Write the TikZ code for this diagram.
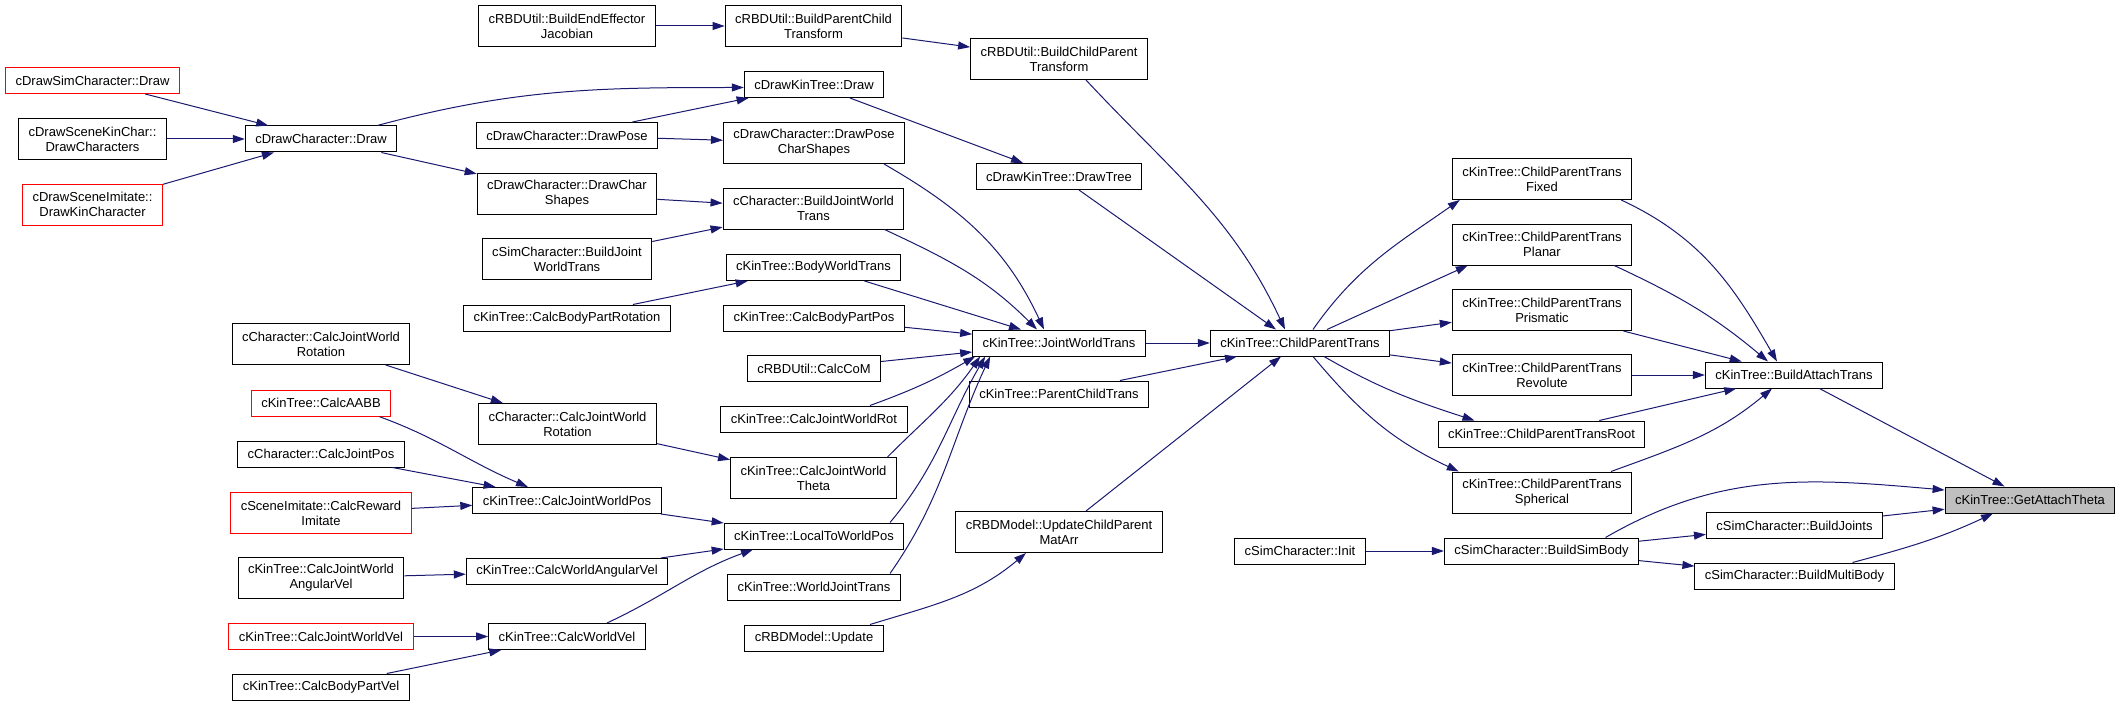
\documentclass[tikz,border=0pt]{standalone}
\usepackage{fontspec}
\setmainfont{Liberation Sans}
\usepackage{tikz}
\usetikzlibrary{arrows.meta}
\definecolor{edgeblue}{HTML}{191970}

\begin{document}
\begin{tikzpicture}[x=1pt, y=-1pt,
    fn/.style={draw=black, fill=white, line width=1pt, font=\fontsize{13}{15}\selectfont, inner xsep=10pt, inner ysep=2pt, minimum height=26pt, align=center},
    fntwo/.style={fn, minimum height=41pt},
    ext/.style={draw=red},
    cur/.style={fill=black!25},
    arrow/.style={-{Triangle[length=12pt,width=8pt]}, draw=edgeblue, line width=1pt}]

    \useasboundingbox (0,0) rectangle (2121,706);

    \node[fntwo] (jacob) at (567,26) {cRBDUtil::BuildEndEffector\\Jacobian};
    \node[fntwo] (bpct) at (813.5,26) {cRBDUtil::BuildParentChild\\Transform};
    \node[fntwo] (bcpt) at (1059,59) {cRBDUtil::BuildChildParent\\Transform};
    \node[fn, ext] (dsimdraw) at (92.5,80.5) {cDrawSimCharacter::Draw};
    \node[fntwo] (dkinchar) at (92.5,139) {cDrawSceneKinChar::\\DrawCharacters};
    \node[fn] (dchardraw) at (321,139) {cDrawCharacter::Draw};
    \node[fntwo, ext] (dimitate) at (92.5,204.5) {cDrawSceneImitate::\\DrawKinCharacter};
    \node[fn] (dkintree) at (814,84.5) {cDrawKinTree::Draw};
    \node[fn] (drawpose) at (567,135.5) {cDrawCharacter::DrawPose};
    \node[fntwo] (posecs) at (814,143) {cDrawCharacter::DrawPose\\CharShapes};
    \node[fntwo] (charshapes) at (567,194) {cDrawCharacter::DrawChar\\Shapes};
    \node[fn] (drawtree) at (1059,176.5) {cDrawKinTree::DrawTree};
    \node[fntwo] (cbjwt) at (813.5,208.5) {cCharacter::BuildJointWorld\\Trans};
    \node[fntwo] (sbjwt) at (567,259) {cSimCharacter::BuildJoint\\WorldTrans};
    \node[fn] (bodywt) at (813.5,267.5) {cKinTree::BodyWorldTrans};
    \node[fn] (bprot) at (567,318) {cKinTree::CalcBodyPartRotation};
    \node[fn] (bppos) at (814,318) {cKinTree::CalcBodyPartPos};
    \node[fn] (jwt) at (1059,343) {cKinTree::JointWorldTrans};
    \node[fn] (cpt) at (1300,343) {cKinTree::ChildParentTrans};
    \node[fntwo] (crot1) at (321,344) {cCharacter::CalcJointWorld\\Rotation};
    \node[fn] (com) at (814,368.5) {cRBDUtil::CalcCoM};
    \node[fn] (pct) at (1059,394) {cKinTree::ParentChildTrans};
    \node[fn, ext] (aabb) at (321,403) {cKinTree::CalcAABB};
    \node[fntwo] (crot2) at (567.5,424) {cCharacter::CalcJointWorld\\Rotation};
    \node[fn] (jwrot) at (814,419) {cKinTree::CalcJointWorldRot};
    \node[fn] (jpos) at (321,454) {cCharacter::CalcJointPos};
    \node[fntwo] (theta) at (813.5,478) {cKinTree::CalcJointWorld\\Theta};
    \node[fn] (jwpos) at (567,500.5) {cKinTree::CalcJointWorldPos};
    \node[fntwo, ext] (reward) at (321,513) {cSceneImitate::CalcReward\\Imitate};
    \node[fn] (l2w) at (814,536) {cKinTree::LocalToWorldPos};
    \node[fntwo] (upd) at (1059,532) {cRBDModel::UpdateChildParent\\MatArr};
    \node[fn] (init) at (1300,551) {cSimCharacter::Init};
    \node[fntwo] (angvel) at (321,578) {cKinTree::CalcJointWorld\\AngularVel};
    \node[fn] (wangvel) at (567,571.5) {cKinTree::CalcWorldAngularVel};
    \node[fn] (wjt) at (814,587) {cKinTree::WorldJointTrans};
    \node[fn, ext] (jwvel) at (321,636.5) {cKinTree::CalcJointWorldVel};
    \node[fn] (wvel) at (567,636.5) {cKinTree::CalcWorldVel};
    \node[fn] (rbdupd) at (814,638) {cRBDModel::Update};
    \node[fn] (bpvel) at (321,687) {cKinTree::CalcBodyPartVel};
    \node[fntwo] (fixed) at (1542,179) {cKinTree::ChildParentTrans\\Fixed};
    \node[fntwo] (planar) at (1542,244.5) {cKinTree::ChildParentTrans\\Planar};
    \node[fntwo] (prism) at (1542,310) {cKinTree::ChildParentTrans\\Prismatic};
    \node[fntwo] (revol) at (1542,375) {cKinTree::ChildParentTrans\\Revolute};
    \node[fn] (root) at (1541.5,434) {cKinTree::ChildParentTransRoot};
    \node[fntwo] (spher) at (1542,492.5) {cKinTree::ChildParentTrans\\Spherical};
    \node[fn] (bat) at (1794,375) {cKinTree::BuildAttachTrans};
    \node[fn, cur] (gat) at (2030,500) {cKinTree::GetAttachTheta};
    \node[fn] (bjoints) at (1794.5,525.5) {cSimCharacter::BuildJoints};
    \node[fn] (simbody) at (1541.5,551) {cSimCharacter::BuildSimBody};
    \node[fn] (multibody) at (1794.5,576) {cSimCharacter::BuildMultiBody};

    \draw[arrow] (jacob) -- (bpct);
    \draw[arrow] (bpct) -- (bcpt);
    \draw[arrow] ([xshift=27pt]bcpt.south) to[out=-47,in=115] ([xshift=-15pt]cpt.north);
    \draw[arrow] (dsimdraw) -- (dchardraw);
    \draw[arrow] (dkinchar) -- (dchardraw);
    \draw[arrow] (dimitate) -- (dchardraw);
    \draw[arrow] ([xshift=-20pt]dchardraw.north east) to[out=15,in=180] ([yshift=-3pt]dkintree.west);
    \draw[arrow] (dchardraw) -- (charshapes);
    \draw[arrow] (drawpose) -- (dkintree);
    \draw[arrow] (drawpose) -- (posecs);
    \draw[arrow] (charshapes) -- (cbjwt);
    \draw[arrow] (sbjwt) -- (cbjwt);
    \draw[arrow] (bprot) -- (bodywt);
    \draw[arrow] (dkintree) -- (drawtree);
    \draw[arrow] ([xshift=20pt]drawtree.south) -- ([xshift=-24pt]cpt.north);
    \draw[arrow] ([xshift=70pt]posecs.south) to[out=-30,in=115] ([xshift=-15pt]jwt.north);
    \draw[arrow] ([xshift=71pt]cbjwt.south) to[out=-25,in=135] ([xshift=-22pt]jwt.north);
    \draw[arrow] ([xshift=51pt]bodywt.south) -- ([xshift=-38pt]jwt.north);
    \draw[arrow] (bppos) -- (jwt);
    \draw[arrow] (com) -- (jwt);
    \draw[arrow] ([xshift=56pt]jwrot.north) to[out=20,in=210] ([xshift=3pt]jwt.south west);
    \draw[arrow] ([xshift=74pt]theta.north) to[out=45,in=235] ([xshift=8pt]jwt.south west);
    \draw[arrow] ([xshift=76pt]l2w.north) to[out=50,in=240] ([xshift=13pt]jwt.south west);
    \draw[arrow] ([xshift=76pt]wjt.north) to[out=55,in=245] ([xshift=18pt]jwt.south west);
    \draw[arrow] (jwt) -- (cpt);
    \draw[arrow] ([xshift=61pt]pct.north) -- ([xshift=-63pt]cpt.south);
    \draw[arrow] ([xshift=27pt]upd.north) -- ([xshift=-19pt]cpt.south);
    \draw[arrow] ([xshift=56pt]rbdupd.north) to[out=17,in=220] ([xshift=-33pt]upd.south);
    \draw[arrow] (crot1) -- (crot2);
    \draw[arrow] (crot2) -- (theta);
    \draw[arrow] ([xshift=58pt]aabb.south) to[out=-20,in=157] ([xshift=-39pt]jwpos.north);
    \draw[arrow] (jpos) -- (jwpos);
    \draw[arrow] (reward) -- (jwpos);
    \draw[arrow] (jwpos) -- (l2w);
    \draw[arrow] (angvel) -- (wangvel);
    \draw[arrow] (wangvel) -- (l2w);
    \draw[arrow] (jwvel) -- (wvel);
    \draw[arrow] (bpvel) -- (wvel);
    \draw[arrow] ([xshift=40pt]wvel.north) to[out=25,in=200] ([xshift=-61pt]l2w.south);
    \draw[arrow] ([xshift=13pt]cpt.north) to[out=55,in=215] ([xshift=8pt]fixed.south west);
    \draw[arrow] ([xshift=27pt]cpt.north) -- ([xshift=16pt]planar.south west);
    \draw[arrow] (cpt) -- (prism);
    \draw[arrow] (cpt) -- (revol);
    \draw[arrow] ([xshift=24pt]cpt.south) to[out=-30,in=162] ([xshift=-67pt]root.north);
    \draw[arrow] ([xshift=13pt]cpt.south) to[out=-50,in=155] ([xshift=7pt]spher.north west);
    \draw[arrow] ([xshift=-11pt]fixed.south east) to[out=-25,in=120] ([xshift=-17pt]bat.north);
    \draw[arrow] ([xshift=-18pt]planar.south east) to[out=-25,in=140] ([xshift=-26pt]bat.north);
    \draw[arrow] (prism) -- (bat);
    \draw[arrow] (revol) -- (bat);
    \draw[arrow] (root) -- (bat);
    \draw[arrow] ([xshift=69pt]spher.north) to[out=20,in=220] ([xshift=-22pt]bat.south);
    \draw[arrow] (bat) -- (gat);
    \draw[arrow] ([xshift=64pt]simbody.north) to[out=30,in=175] ([yshift=10pt]gat.west);
    \draw[arrow] (bjoints) -- (gat);
    \draw[arrow] ([xshift=58pt]multibody.north) to[out=15,in=205] ([xshift=-37pt]gat.south);
    \draw[arrow] (simbody) -- (bjoints);
    \draw[arrow] (simbody) -- (multibody);
    \draw[arrow] (init) -- (simbody);
\end{tikzpicture}
\end{document}
